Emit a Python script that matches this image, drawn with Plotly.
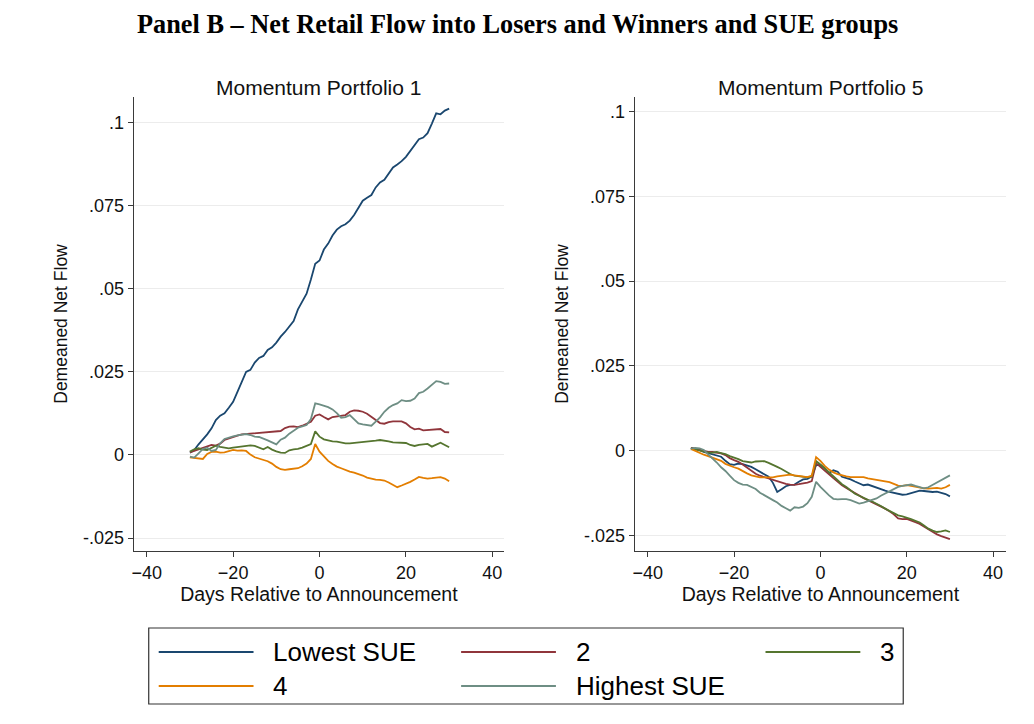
import plotly.graph_objects as go

# Days relative to the earnings announcement
days = list(range(-30, 31))

series_names = ["Lowest SUE", "2", "3", "4", "Highest SUE"]
series_colors = ["#1a476f", "#90353b", "#55752f", "#e37e00", "#6e8e84"]

# Momentum portfolio 1 (losers)
p1_lowest = [0.0007, 0.0015, 0.0032, 0.0046, 0.0062, 0.0080, 0.0105, 0.0118, 0.0125, 0.0142,
             0.0160, 0.0190, 0.0222, 0.0250, 0.0256, 0.0278, 0.0292, 0.0298, 0.0316, 0.0324,
             0.0338, 0.0356, 0.0370, 0.0385, 0.0403, 0.0438, 0.0462, 0.0485, 0.0528, 0.0575,
             0.0585, 0.0618, 0.0636, 0.0660, 0.0678, 0.0688, 0.0694, 0.0705, 0.0722, 0.0745,
             0.0765, 0.0774, 0.0782, 0.0805, 0.0820, 0.0828, 0.0848, 0.0865, 0.0874, 0.0884,
             0.0897, 0.0915, 0.0932, 0.0950, 0.0955, 0.0968, 0.0997, 0.1028, 0.1025, 0.1036,
             0.1042]
p1_q2 = [0.0008, 0.0012, 0.0016, 0.0020, 0.0026, 0.0030, 0.0028, 0.0034, 0.0045, 0.0050,
         0.0054, 0.0058, 0.0062, 0.0063, 0.0066, 0.0066, 0.0068, 0.0068, 0.0069, 0.0069,
         0.0070, 0.0072, 0.0081, 0.0085, 0.0086, 0.0084, 0.0088, 0.0094, 0.0100, 0.0118,
         0.0122, 0.0114, 0.0107, 0.0114, 0.0116, 0.0116, 0.0120, 0.0130, 0.0134, 0.0133,
         0.0130, 0.0124, 0.0114, 0.0104, 0.0096, 0.0094, 0.0099, 0.0101, 0.0101, 0.0101,
         0.0095, 0.0084, 0.0077, 0.0079, 0.0074, 0.0075, 0.0076, 0.0075, 0.0078, 0.0069,
         0.0068]
p1_q3 = [0.0010, 0.0017, 0.0020, 0.0016, 0.0015, 0.0022, 0.0028, 0.0024, 0.0021, 0.0020,
         0.0022, 0.0024, 0.0027, 0.0028, 0.0029, 0.0027, 0.0021, 0.0017, 0.0024, 0.0016,
         0.0011, 0.0007, 0.0006, 0.0014, 0.0017, 0.0018, 0.0022, 0.0027, 0.0033, 0.0071,
         0.0055, 0.0047, 0.0043, 0.0041, 0.0040, 0.0037, 0.0035, 0.0035, 0.0036, 0.0037,
         0.0038, 0.0040, 0.0042, 0.0043, 0.0045, 0.0044, 0.0041, 0.0038, 0.0037, 0.0037,
         0.0036, 0.0030, 0.0027, 0.0030, 0.0031, 0.0033, 0.0025, 0.0032, 0.0037, 0.0030,
         0.0023]
p1_q4 = [-0.0007, -0.0008, -0.0011, -0.0012, 0.0003, 0.0009, 0.0010, 0.0007, 0.0008, 0.0012,
         0.0015, 0.0013, 0.0014, 0.0012, 0.0001, -0.0007, -0.0011, -0.0014, -0.0019, -0.0026,
         -0.0036, -0.0043, -0.0045, -0.0043, -0.0041, -0.0040, -0.0034, -0.0026, -0.0012, 0.0033,
         0.0010, -0.0005, -0.0018, -0.0027, -0.0035, -0.0040, -0.0046, -0.0050, -0.0053, -0.0057,
         -0.0062, -0.0068, -0.0072, -0.0074, -0.0075, -0.0077, -0.0083, -0.0090, -0.0097, -0.0092,
         -0.0087, -0.0081, -0.0074, -0.0066, -0.0069, -0.0071, -0.0070, -0.0068, -0.0067, -0.0071,
         -0.0079]
p1_highest = [-0.0005, -0.0008, 0.0005, 0.0018, 0.0022, 0.0012, 0.0015, 0.0035, 0.0048, 0.0053,
              0.0056, 0.0059, 0.0062, 0.0063, 0.0060, 0.0055, 0.0054, 0.0050, 0.0044, 0.0038,
              0.0032, 0.0046, 0.0052, 0.0064, 0.0072, 0.0082, 0.0086, 0.0090, 0.0108, 0.0155,
              0.0152, 0.0148, 0.0144, 0.0137, 0.0126, 0.0112, 0.0114, 0.0120, 0.0108, 0.0095,
              0.0092, 0.0089, 0.0088, 0.0100, 0.0113, 0.0130, 0.0142, 0.0150, 0.0155, 0.0165,
              0.0162, 0.0163, 0.0170, 0.0186, 0.0190, 0.0200, 0.0212, 0.0222, 0.0220, 0.0214,
              0.0215]

# Momentum portfolio 5 (winners)
p5_lowest = [0.0008, 0.0005, 0.0002, -0.0004, -0.0007, -0.0010, -0.0013, -0.0018, -0.0030, -0.0040,
             -0.0042, -0.0038, -0.0040, -0.0043, -0.0048, -0.0055, -0.0062, -0.0068, -0.0077, -0.0095,
             -0.0122, -0.0114, -0.0105, -0.0101, -0.0100, -0.0092, -0.0085, -0.0083, -0.0076, -0.0043,
             -0.0042, -0.0052, -0.0066, -0.0058, -0.0062, -0.0077, -0.0080, -0.0085, -0.0091, -0.0096,
             -0.0102, -0.0100, -0.0105, -0.0110, -0.0115, -0.0118, -0.0122, -0.0125, -0.0128, -0.0130,
             -0.0129, -0.0125, -0.0121, -0.0118, -0.0119, -0.0121, -0.0122, -0.0121, -0.0124, -0.0128,
             -0.0135]
p5_q2 = [0.0008, 0.0005, 0.0001, -0.0002, -0.0004, -0.0004, -0.0005, -0.0008, -0.0013, -0.0022,
         -0.0028, -0.0033, -0.0041, -0.0050, -0.0059, -0.0068, -0.0074, -0.0078, -0.0082, -0.0087,
         -0.0092, -0.0096, -0.0098, -0.0100, -0.0101, -0.0099, -0.0097, -0.0094, -0.0090, -0.0037,
         -0.0048, -0.0058, -0.0070, -0.0081, -0.0092, -0.0102, -0.0110, -0.0118, -0.0126, -0.0134,
         -0.0140, -0.0146, -0.0152, -0.0157, -0.0165, -0.0171, -0.0179, -0.0188, -0.0200, -0.0202,
         -0.0201, -0.0205, -0.0211, -0.0216, -0.0224, -0.0233, -0.0241, -0.0247, -0.0252, -0.0256,
         -0.0261]
p5_q3 = [0.0007, 0.0004, 0.0000, -0.0003, -0.0006, -0.0006, -0.0004, -0.0007, -0.0010, -0.0016,
         -0.0020, -0.0025, -0.0031, -0.0034, -0.0035, -0.0032, -0.0031, -0.0031, -0.0036, -0.0043,
         -0.0048, -0.0054, -0.0062, -0.0069, -0.0074, -0.0076, -0.0078, -0.0079, -0.0077, -0.0031,
         -0.0041, -0.0053, -0.0066, -0.0077, -0.0088, -0.0099, -0.0107, -0.0118, -0.0127, -0.0133,
         -0.0140, -0.0145, -0.0150, -0.0156, -0.0163, -0.0171, -0.0178, -0.0185, -0.0191, -0.0194,
         -0.0197, -0.0202, -0.0207, -0.0212, -0.0221, -0.0230, -0.0236, -0.0240, -0.0238, -0.0235,
         -0.0240]
p5_q4 = [0.0005, -0.0001, -0.0006, -0.0012, -0.0016, -0.0020, -0.0024, -0.0030, -0.0039, -0.0045,
         -0.0049, -0.0053, -0.0061, -0.0067, -0.0073, -0.0077, -0.0079, -0.0079, -0.0080, -0.0079,
         -0.0076, -0.0074, -0.0073, -0.0071, -0.0073, -0.0075, -0.0077, -0.0078, -0.0074, -0.0019,
         -0.0030, -0.0045, -0.0056, -0.0064, -0.0069, -0.0073, -0.0076, -0.0078, -0.0078, -0.0077,
         -0.0078, -0.0082, -0.0084, -0.0085, -0.0087, -0.0090, -0.0093, -0.0098, -0.0103, -0.0104,
         -0.0102, -0.0104, -0.0107, -0.0109, -0.0111, -0.0112, -0.0111, -0.0110, -0.0112, -0.0108,
         -0.0101]
p5_highest = [0.0006, 0.0008, 0.0007, 0.0002, -0.0011, -0.0022, -0.0035, -0.0049, -0.0060, -0.0074,
              -0.0087, -0.0095, -0.0100, -0.0101, -0.0106, -0.0113, -0.0124, -0.0132, -0.0139, -0.0146,
              -0.0153, -0.0163, -0.0170, -0.0177, -0.0167, -0.0169, -0.0165, -0.0155, -0.0136, -0.0092,
              -0.0107, -0.0120, -0.0132, -0.0142, -0.0144, -0.0143, -0.0143, -0.0146, -0.0151, -0.0156,
              -0.0153, -0.0149, -0.0147, -0.0141, -0.0133, -0.0127, -0.0121, -0.0114, -0.0107, -0.0104,
              -0.0102, -0.0100, -0.0104, -0.0107, -0.0111, -0.0108, -0.0101, -0.0094, -0.0087, -0.0080,
              -0.0073]

panel_titles = ["Momentum Portfolio 1", "Momentum Portfolio 5"]
x_ticks = [-40, -20, 0, 20, 40]
y_ticks = [-0.025, 0, 0.025, 0.05, 0.075, 0.1]
y_tick_labels = ["-.025", "0", ".025", ".05", ".075", ".1"]

panels = [
    [p1_lowest, p1_q2, p1_q3, p1_q4, p1_highest],
    [p5_lowest, p5_q2, p5_q3, p5_q4, p5_highest],
]

SANS = "Liberation Sans, Arial, sans-serif"
# page body has an 8px margin, so the figure is a bit smaller than the window
OFF = 8
W, H = 1034 - 2 * OFF, 724 - 2 * OFF


def fx(px):
    return (px - OFF) / W


def fy(py):
    return 1 - (py - OFF) / H


fig = go.Figure()

for i, panel in enumerate(panels):
    xa = "x" if i == 0 else "x2"
    ya = "y" if i == 0 else "y2"
    for name, color, vals in zip(series_names, series_colors, panel):
        fig.add_trace(go.Scatter(
            x=days, y=vals, mode="lines", name=name,
            line=dict(color=color, width=1.8),
            xaxis=xa, yaxis=ya, showlegend=False,
        ))

axis_common = dict(
    showline=True, linecolor="#3a3a3a", linewidth=1.3,
    ticks="outside", ticklen=5, tickcolor="#3a3a3a", tickwidth=1.2,
    tickfont=dict(family=SANS, size=18, color="#111"),
    zeroline=False,
)
xtitle = dict(text="Days Relative to Announcement", standoff=0,
              font=dict(family=SANS, size=19.5, color="#111"))
ytitle = dict(text="Demeaned Net Flow", standoff=10,
              font=dict(family=SANS, size=17.5, color="#111"))

fig.update_layout(
    width=W, height=H,
    margin=dict(l=0, r=0, t=0, b=0),
    paper_bgcolor="white", plot_bgcolor="white",
    xaxis=dict(domain=[fx(132), fx(503)], range=[-43, 42.7], anchor="y",
               tickvals=x_ticks, showgrid=False, title=xtitle, **axis_common),
    yaxis=dict(domain=[fy(551), fy(97)], range=[-0.0289, 0.1077], anchor="x",
               tickvals=y_ticks, ticktext=y_tick_labels,
               showgrid=True, gridcolor="#ececec", gridwidth=1,
               title=ytitle, **axis_common),
    xaxis2=dict(domain=[fx(634), fx(1006)], range=[-43, 43], anchor="y2",
                tickvals=x_ticks, showgrid=False, title=xtitle, **axis_common),
    yaxis2=dict(domain=[fy(551), fy(97)], range=[-0.0296, 0.1043], anchor="x2",
                tickvals=y_ticks, ticktext=y_tick_labels,
                showgrid=True, gridcolor="#ececec", gridwidth=1,
                title=ytitle, **axis_common),
)

# Overall title
fig.add_annotation(
    text="<b>Panel B – Net Retail Flow into Losers and Winners and SUE groups</b>",
    x=fx(516), y=fy(24), xref="paper", yref="paper",
    showarrow=False, xanchor="center", yanchor="middle",
    font=dict(family="Liberation Serif, Times New Roman, serif", size=26.3, color="black"),
)

# Panel titles
for title, cx in zip(panel_titles, [317.5, 820]):
    fig.add_annotation(
        text=title, x=fx(cx), y=fy(87), xref="paper", yref="paper",
        showarrow=False, xanchor="center", yanchor="middle",
        font=dict(family=SANS, size=21, color="#111"),
    )

# Legend box, Stata style (3 columns, long line samples)
fig.add_shape(type="rect", xref="paper", yref="paper",
              x0=fx(147), x1=fx(903), y0=fy(704), y1=fy(628),
              line=dict(color="#333", width=1.2), fillcolor="white")
col_x = [157, 460, 765]
row_y = [652, 686]
for k, (name, color) in enumerate(zip(series_names, series_colors)):
    cx = col_x[k % 3]
    cy = row_y[k // 3]
    fig.add_shape(type="line", xref="paper", yref="paper",
                  x0=fx(cx), x1=fx(cx + 95), y0=fy(cy), y1=fy(cy),
                  line=dict(color=color, width=2))
    fig.add_annotation(text=name, x=fx(cx + 113), y=fy(cy),
                       xref="paper", yref="paper", showarrow=False,
                       xanchor="left", yanchor="middle",
                       font=dict(family=SANS, size=26, color="black"))

fig.write_html("out.html")
